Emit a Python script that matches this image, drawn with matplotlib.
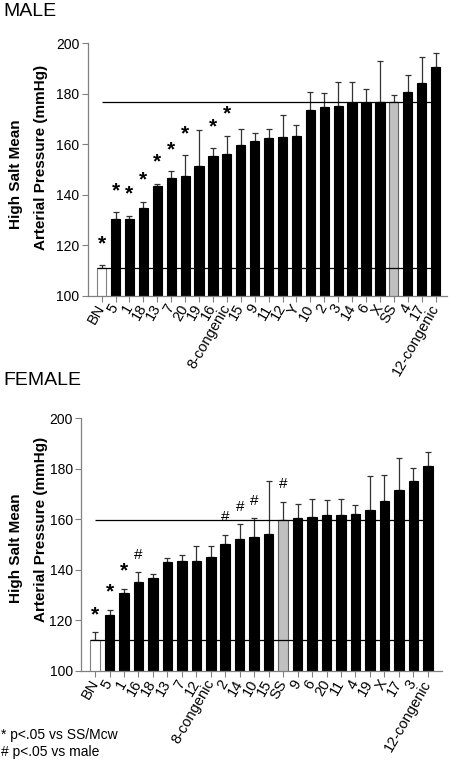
import numpy as np
import matplotlib
matplotlib.use('Agg')
import matplotlib.pyplot as plt

plt.rcParams['font.family'] = ['Liberation Sans', 'DejaVu Sans']

# male strains, sorted by pressure
labels_m = ['BN', '5', '1', '18', '13', '7', '20', '19', '16', '8-congenic', '15', '9', '11',
            '12', 'Y', '10', '2', '3', '14', '6', 'X', 'SS', '4', '17', '12-congenic']
mean_m = [111, 130.4, 130.4, 134.7, 143.4, 146.5, 147.5, 151.2, 155.3, 156, 159.7, 161.3, 162.4,
          162.7, 163.4, 173.6, 174.8, 175.3, 176.3, 176.3, 176.8, 176.8, 180.7, 184.4, 190.6]
err_m = [1, 2.8, 1.3, 2.6, 1, 2.9, 8.3, 14.4, 3.1, 7.4, 6.2, 3.1, 3.6,
         9, 4.3, 7.3, 5.7, 9.5, 8.5, 5.5, 16.1, 2.6, 6.9, 10.1, 5.7]
star_m = ['BN', '5', '1', '18', '13', '7', '20', '16', '8-congenic']

# female strains
labels_f = ['BN', '5', '1', '16', '18', '13', '7', '12', '8-congenic', '2', '14', '10', '15',
            'SS', '9', '6', '20', '11', '4', '19', 'X', '17', '3', '12-congenic']
mean_f = [112.4, 122.1, 130.8, 135.4, 136.7, 143.2, 143.4, 143.6, 145.3, 150.4, 152.4, 153, 154.4,
          159.7, 160.4, 160.9, 161.7, 161.9, 162.3, 163.9, 167.2, 171.7, 175.1, 181.3]
err_f = [3, 2.2, 1.8, 3.6, 1.5, 1.6, 2.7, 5.7, 4, 3.5, 5.6, 7.4, 20.7,
         7.2, 5.5, 7.2, 6, 6, 3.4, 13.2, 10.3, 12.4, 5.2, 5.2]
star_f = ['BN', '5', '1']
hash_f = ['16', '2', '14', '10', 'SS']

yticks = [100, 120, 140, 160, 180, 200]
axcol = '#808080'


def draw_panel(ax, labels, mean, err, stars, hashes, xlim, star_off, hash_off):
    x = np.arange(len(labels))
    colors = ['black'] * len(labels)
    edges = ['black'] * len(labels)
    colors[labels.index('BN')] = 'white'
    edges[labels.index('BN')] = axcol
    colors[labels.index('SS')] = '#c0c0c0'
    edges[labels.index('SS')] = '#606060'
    ax.bar(x, mean, width=0.66, color=colors, edgecolor=edges, linewidth=0.8, zorder=2)
    ax.errorbar(x, mean, yerr=[np.zeros(len(err)), err], fmt='none', ecolor='#333333',
                elinewidth=0.9, capsize=2.3, capthick=0.9, zorder=1)
    # reference lines at BN and SS level
    bn = mean[labels.index('BN')]
    ss = mean[labels.index('SS')]
    ax.hlines(ss, 0, len(labels) - 1, color='black', linewidth=0.9, zorder=3)
    ax.hlines(bn, -0.33, len(labels) - 1, color='black', linewidth=0.9, zorder=3)
    for lab in stars:
        i = labels.index(lab)
        ax.text(i, mean[i] + err[i] + star_off, '*', ha='center', va='center', fontsize=15,
                fontweight='bold')
    for lab in hashes:
        i = labels.index(lab)
        ax.text(i, mean[i] + err[i] + hash_off, '#', ha='center', va='center', fontsize=11)
    ax.set_xlim(xlim)
    ax.set_ylim(100, 200)
    ax.set_yticks(yticks)
    ax.set_xticks(x)
    ax.set_xticklabels(labels, rotation=60, ha='right', va='center', rotation_mode='anchor',
                       fontsize=10.5)
    ax.tick_params(axis='y', labelsize=10, length=4, color=axcol, width=0.8, pad=2)
    ax.tick_params(axis='x', length=4, color=axcol, width=0.8, pad=3)
    for s in ['top', 'right']:
        ax.spines[s].set_visible(False)
    for s in ['left', 'bottom']:
        ax.spines[s].set_color(axcol)
        ax.spines[s].set_linewidth(0.9)


fig = plt.figure(figsize=(4.5, 7.6), dpi=100)
H = 760.0
W = 450.0

ax1 = fig.add_axes([87.7 / W, 1 - 295.7 / H, 359 / W, 252.4 / H])
draw_panel(ax1, labels_m, mean_m, err_m, star_m, [], (-1.0, 24.8), 8.5, 7)

ax2 = fig.add_axes([81 / W, 1 - 671 / H, 361 / W, 252.7 / H])
draw_panel(ax2, labels_f, mean_f, err_f, star_f, hash_f, (-0.97, 23.98), 7, 7)

# titles and y labels
fig.text(3 / W, 1 - 11 / H, 'MALE', fontsize=14, va='center', ha='left')
fig.text(3 / W, 1 - 381 / H, 'FEMALE', fontsize=14, va='center', ha='left')
for c1, c2 in [(174, 157), (548, 529)]:
    fig.text(16 / W, 1 - c1 / H, 'High Salt Mean', rotation=90, fontsize=11,
             fontweight='bold', ha='center', va='center')
    fig.text(41 / W, 1 - c2 / H, 'Arterial Pressure (mmHg)', rotation=90, fontsize=11,
             fontweight='bold', ha='center', va='center')

fig.text(1 / W, 1 - 735 / H, '* p<.05 vs SS/Mcw', fontsize=10, va='center', ha='left')
fig.text(1 / W, 1 - 752 / H, '# p<.05 vs male', fontsize=10, va='center', ha='left')

fig.savefig('out.png', dpi=100)
